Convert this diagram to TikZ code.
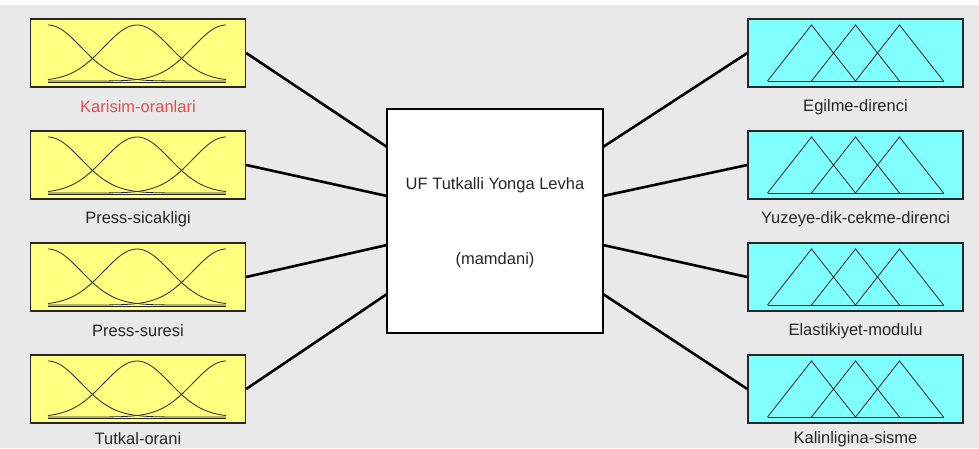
\documentclass[tikz,border=0pt]{standalone}
\usepackage{fontspec}
\setmainfont{Liberation Sans}
\definecolor{fisBg}{RGB}{233,233,233}
\definecolor{fisYellow}{RGB}{255,255,128}
\definecolor{fisCyan}{RGB}{128,255,255}
\definecolor{fisSel}{RGB}{222,80,80}
\begin{document}
\begin{tikzpicture}[x=1pt,y=-1pt,
    fisIn/.style={draw=black!85,line width=1.4pt,fill=fisYellow,minimum width=215pt,minimum height=68pt,inner sep=0pt},
    fisOut/.style={fisIn,fill=fisCyan},
    fisSys/.style={draw=black,line width=2.4pt,fill=white,minimum width=216pt,minimum height=224pt,inner sep=0pt},
    fisWire/.style={line width=2.6pt,black},
    fisMf/.style={line width=0.8pt,black!85},
    fisLbl/.style={font=\fontsize{16.5}{20}\selectfont,text=black!85,inner sep=0pt},
]
% Background
\fill[fisBg] (0,0) rectangle (979,448);
\fill[white] (0,0) rectangle (979,5);
\useasboundingbox (0,0) rectangle (979,448);
% Ports on the system box
\coordinate (sysL1) at (387,147);
\coordinate (sysL2) at (387,196);
\coordinate (sysL3) at (387,245);
\coordinate (sysL4) at (387,294);
\coordinate (sysR1) at (603,147);
\coordinate (sysR2) at (603,196);
\coordinate (sysR3) at (603,245);
\coordinate (sysR4) at (603,294);
% Inputs
\node[fisIn] (in1) at (138,53) {};
\node[fisIn] (in2) at (138,165) {};
\node[fisIn] (in3) at (138,277) {};
\node[fisIn] (in4) at (138,389) {};
\node[fisLbl,text=fisSel] (in1lbl) at (138,107) {Karisim-oranlari};
\node[fisLbl] (in2lbl) at (138,219) {Press-sicakligi};
\node[fisLbl] (in3lbl) at (138,331) {Press-suresi};
\node[fisLbl] (in4lbl) at (138,439) {Tutkal-orani};
% Outputs
\node[fisOut] (out1) at (855.5,53) {};
\node[fisOut] (out2) at (855.5,165) {};
\node[fisOut] (out3) at (855.5,277) {};
\node[fisOut] (out4) at (855.5,389) {};
\node[fisLbl] (out1lbl) at (855.5,107) {Egilme-direnci};
\node[fisLbl] (out2lbl) at (855.5,219) {Yuzeye-dik-cekme-direnci};
\node[fisLbl] (out3lbl) at (855.5,331) {Elastikiyet-modulu};
\node[fisLbl] (out4lbl) at (855.5,439) {Kalinligina-sisme};
% Wires
\draw[fisWire] (in1.east) -- (sysL1);
\draw[fisWire] (in2.east) -- (sysL2);
\draw[fisWire] (in3.east) -- (sysL3);
\draw[fisWire] (in4.east) -- (sysL4);
\draw[fisWire] (sysR1) -- (out1.west);
\draw[fisWire] (sysR2) -- (out2.west);
\draw[fisWire] (sysR3) -- (out3.west);
\draw[fisWire] (sysR4) -- (out4.west);
% System
\node[fisSys] (sys) at (495,221) {};
\node[fisLbl] (sysName) at (495,185) {UF Tutkalli Yonga Levha};
\node[fisLbl] (sysType) at (495,260) {(mamdani)};
% Gaussian MFs
\foreach \b in {in1,in2,in3,in4}{
  \begin{scope}[shift={(\b.center)}]
    \draw[fisMf] (-90,29) -- (88,29);
    \draw[fisMf] plot[domain=-90:88,samples=70,smooth] (\x,{28-56*exp(-0.5*((\x+90)/33)*((\x+90)/33))});
    \draw[fisMf] plot[domain=-90:88,samples=70,smooth] (\x,{28-56*exp(-0.5*((\x+1)/33)*((\x+1)/33))});
    \draw[fisMf] plot[domain=-90:88,samples=70,smooth] (\x,{28-56*exp(-0.5*((\x-88)/33)*((\x-88)/33))});
  \end{scope}
}
% Triangular MFs
\foreach \b in {out1,out2,out3,out4}{
  \begin{scope}[shift={(\b.center)}]
    \draw[fisMf] (-88,28) -- (88,28);
    \draw[fisMf] (-88,28) -- (-44,-28) -- (0,28);
    \draw[fisMf] (-44,28) -- (0,-28) -- (44,28);
    \draw[fisMf] (0,28) -- (44,-28) -- (88,28);
  \end{scope}
}
\end{tikzpicture}
\end{document}
